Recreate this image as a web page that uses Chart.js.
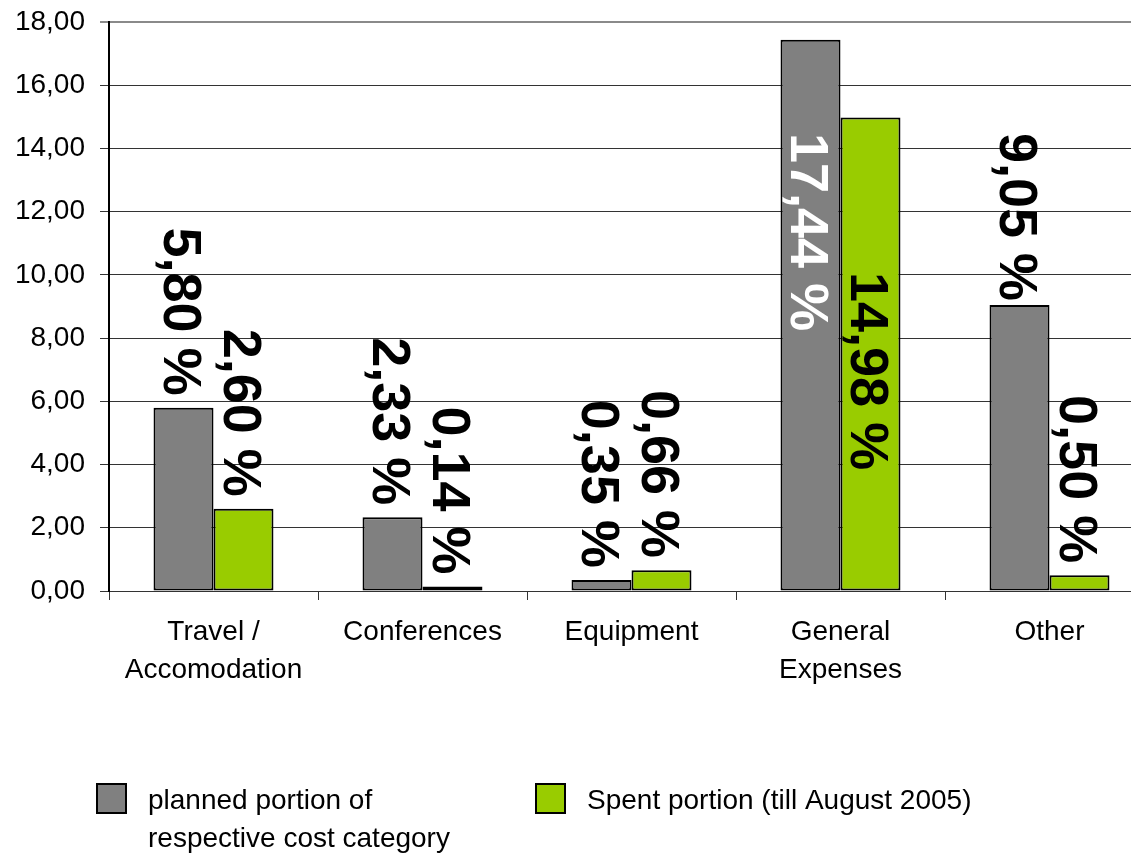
<!DOCTYPE html>
<html>
<head>
<meta charset="utf-8">
<script src="https://cdn.jsdelivr.net/npm/chart.js@4.4.1/dist/chart.umd.min.js"></script>
<style>
  html, body { margin: 0; padding: 0; background: #fff; overflow: hidden; }
  #wrap { position: relative; width: 1156px; height: 854px; }
</style>
</head>
<body>
<div id="wrap"><canvas id="c"></canvas></div>
<script>
// ---- data ----
const categories = [["Travel /", "Accomodation"], "Conferences", "Equipment", ["General", "Expenses"], "Other"];
const plannedValues = [5.80, 2.33, 0.35, 17.44, 9.05];
const spentValues = [2.60, 0.14, 0.66, 14.98, 0.50];
const seriesNames = [["planned portion of", "respective cost category"], ["Spent portion (till August 2005)"]];
const yTicks = [0, 2, 4, 6, 8, 10, 12, 14, 16, 18];

// ---- styling ----
const FONT = '"Liberation Sans", Arial, sans-serif';
const colors = ['#808080', '#99CC00'];
const insideLabelColors = ['#ffffff', '#000000'];
const labelShift = [[0, 0, 0, 0, 0], [0, 0, 0, 139, 0]];

const fmt = v => v.toFixed(2).replace('.', ',');

const labelPlugin = {
  id: 'rotLabels',
  afterDatasetsDraw(chart) {
    const ctx = chart.ctx;
    const size = 54;
    const capH = size * 0.716;
    ctx.save();
    ctx.font = 'bold ' + size + 'px ' + FONT;
    ctx.textAlign = 'left';
    ctx.textBaseline = 'alphabetic';
    chart.data.datasets.forEach((ds, di) => {
      const meta = chart.getDatasetMeta(di);
      meta.data.forEach((bar, i) => {
        const txt = fmt(ds.data[i]) + ' %';
        const w = ctx.measureText(txt).width;
        let end = bar.y - 12;
        let start = end - w;
        if (start < 133) start = 133;
        start += labelShift[di][i];
        const inside = start + w > bar.y;
        ctx.fillStyle = inside ? insideLabelColors[di] : '#000000';
        ctx.save();
        ctx.translate(bar.x - capH / 2, start);
        ctx.rotate(Math.PI / 2);
        ctx.fillText(txt, 0, 0);
        ctx.restore();
      });
    });
    ctx.restore();
  }
};

const legendPlugin = {
  id: 'customLegend',
  afterDraw(chart) {
    const ctx = chart.ctx;
    const items = [{ box: 96, text: 148 }, { box: 535, text: 587 }];
    ctx.save();
    ctx.font = '28px ' + FONT;
    ctx.textAlign = 'left';
    ctx.textBaseline = 'alphabetic';
    items.forEach((it, k) => {
      ctx.fillStyle = colors[k];
      ctx.fillRect(it.box, 783, 31, 31);
      ctx.strokeStyle = '#000';
      ctx.lineWidth = 2;
      ctx.strokeRect(it.box + 1, 784, 29, 29);
      ctx.fillStyle = '#000';
      seriesNames[k].forEach((line, j) => {
        ctx.fillText(line, it.text, 809 + j * 38);
      });
    });
    ctx.restore();
  }
};

new Chart(document.getElementById('c'), {
  type: 'bar',
  data: {
    labels: categories,
    datasets: [
      { label: 'planned portion of respective cost category', data: plannedValues, backgroundColor: colors[0], borderColor: '#000', borderWidth: 2, borderSkipped: false },
      { label: 'Spent portion (till August 2005)', data: spentValues, backgroundColor: colors[1], borderColor: '#000', borderWidth: 2, borderSkipped: false }
    ]
  },
  options: {
    responsive: true,
    maintainAspectRatio: false,
    animation: false,
    layout: { padding: { top: 22, right: 2, left: 0, bottom: 0 } },
    datasets: { bar: { categoryPercentage: 0.574, barPercentage: 1.0 } },
    plugins: { legend: { display: false }, tooltip: { enabled: false } },
    scales: {
      x: {
        offset: true,
        grid: { offset: true, drawOnChartArea: false, drawTicks: true, tickLength: 9, color: '#333' },
        border: { color: '#333', width: 1 },
        ticks: { color: '#000', font: { family: FONT, size: 28, lineHeight: 1.357 }, padding: 13, maxRotation: 0, autoSkip: false },
        afterFit(s) { s.height = 263; s.paddingLeft = 0; s.paddingRight = 0; }
      },
      y: {
        min: 0, max: 18,
        afterBuildTicks(s) { s.ticks = yTicks.map(v => ({ value: v })); },
        grid: {
          tickLength: 9,
          color: c => (c.tick && c.tick.value === 18) ? '#8a8a8a' : '#333',
          lineWidth: c => (c.tick && c.tick.value === 18) ? 2 : 1
        },
        border: { color: '#000', width: 2 },
        ticks: { color: '#000', font: { family: FONT, size: 28 }, padding: 15, callback: v => fmt(v) },
        afterFit(s) { s.width = 109; s.paddingTop = 0; s.paddingBottom = 0; }
      }
    }
  },
  plugins: [labelPlugin, legendPlugin]
});
</script>
</body>
</html>
